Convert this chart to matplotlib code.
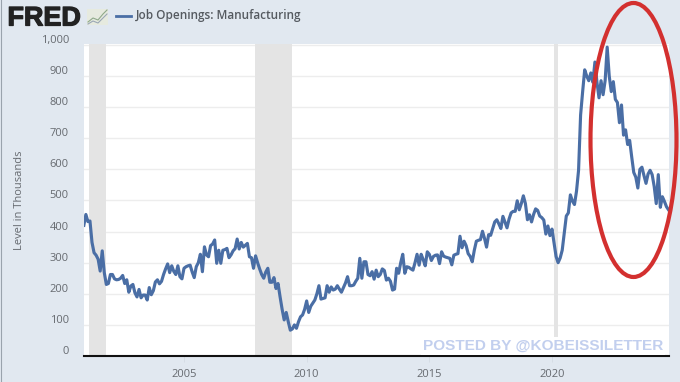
import matplotlib
matplotlib.use("Agg")
import matplotlib.pyplot as plt
import matplotlib.patheffects as pe
from matplotlib.patches import Ellipse, Rectangle
from matplotlib.lines import Line2D
from matplotlib.transforms import ScaledTranslation

W, H = 680, 382
BG = "#e1e8f0"
LINE = "#4a6ea5"
TXT = "#666a70"

v2000 = [420]
v2001 = [455, 432, 434, 365, 332, 324, 311, 273, 338, 268, 230, 233]
v2002 = [262, 262, 248, 245, 246, 250, 259, 233, 245, 205, 225, 230]
v2003 = [203, 190, 214, 187, 196, 196, 180, 220, 197, 210, 238, 245]
v2004 = [232, 240, 262, 280, 296, 268, 290, 272, 262, 290, 255, 248]
v2005 = [282, 287, 290, 292, 270, 252, 287, 300, 327, 271, 351, 325]
v2006 = [319, 355, 360, 373, 298, 340, 298, 340, 342, 346, 316, 325]
v2007 = [338, 345, 376, 344, 365, 350, 356, 362, 319, 316, 282, 322]
v2008 = [300, 280, 262, 250, 270, 282, 237, 237, 252, 217, 233, 190]
v2009 = [150, 116, 140, 110, 83, 87, 100, 89, 110, 126, 132, 150]
v2010 = [177, 140, 160, 170, 180, 200, 226, 183, 185, 187, 226, 205]
v2011 = [222, 212, 215, 226, 215, 205, 220, 235, 255, 226, 226, 228]
v2012 = [240, 250, 314, 250, 303, 303, 262, 258, 271, 247, 276, 255]
v2013 = [262, 280, 275, 244, 250, 240, 212, 215, 282, 266, 300, 327]
v2014 = [266, 287, 285, 280, 276, 300, 327, 292, 327, 310, 290, 335]
v2015 = [327, 307, 320, 324, 325, 297, 335, 321, 318, 316, 314, 293]
v2016 = [324, 327, 329, 385, 348, 369, 355, 329, 320, 303, 340, 369]
v2017 = [372, 374, 401, 378, 350, 390, 388, 410, 431, 438, 425, 410]
v2018 = [449, 430, 412, 440, 460, 465, 465, 499, 470, 490, 515, 490]
v2019 = [438, 454, 431, 455, 473, 468, 450, 445, 437, 392, 418, 387]
v2020 = [408, 365, 320, 300, 315, 340, 395, 450, 460, 518, 498, 487]
v2021 = [530, 597, 775, 850, 920, 900, 885, 910, 880, 945, 880, 830]
v2022 = [885, 840, 885, 993, 900, 850, 882, 825, 815, 750, 807, 710]
v2023 = [727, 680, 693, 640, 590, 575, 540, 600, 607, 580, 555, 585]
v2024 = [597, 583, 545, 490, 583, 478, 512, 497, 480, 470]

by_year = [(2001, v2001), (2002, v2002), (2003, v2003), (2004, v2004), (2005, v2005),
           (2006, v2006), (2007, v2007), (2008, v2008), (2009, v2009), (2010, v2010),
           (2011, v2011), (2012, v2012), (2013, v2013), (2014, v2014), (2015, v2015),
           (2016, v2016), (2017, v2017), (2018, v2018), (2019, v2019), (2020, v2020),
           (2021, v2021), (2022, v2022), (2023, v2023), (2024, v2024)]

dates = [2000 + 11 / 12]
values = list(v2000)
for yr, vals in by_year:
    for m, val in enumerate(vals):
        dates.append(yr + m / 12)
        values.append(val)

recessions = [(2001.13, 2001.81), (2007.90, 2009.39), (2020.08, 2020.25)]
y_ticks = [0, 100, 200, 300, 400, 500, 600, 700, 800, 900, 1000]
y_labels = ["0", "100", "200", "300", "400", "500", "600", "700", "800", "900", "1,000"]
x_ticks = [2005, 2010, 2015, 2020]
x_labels = ["2005", "2010", "2015", "2020"]
series_name = "Job Openings: Manufacturing"
y_title = "Level in Thousands"
watermark = "POSTED BY @KOBEISSILETTER"

fig = plt.figure(figsize=(W / 100, H / 100), dpi=100, facecolor=BG)
L, R, T, B = 83.5, 669, 44, 356
ax = fig.add_axes([L / W, 1 - B / H, (R - L) / W, (B - T) / H])
ax.set_facecolor("white")
ax.set_xlim(2000.903, 2024.77)
ax.set_ylim(0, 1003)

for a, b in recessions:
    ax.axvspan(a, b, color="#e4e4e4", lw=0, zorder=1)
ax.yaxis.grid(True, color="#ededed", lw=1.0, zorder=0.5)
ax.set_axisbelow(True)
ax.plot(dates, values, color=LINE, lw=2.25, solid_joinstyle="round", zorder=3)

for s in ("top", "left", "right"):
    ax.spines[s].set_visible(False)
ax.spines["bottom"].set_color("#111111")
ax.spines["bottom"].set_linewidth(1.5)

ax.set_yticks(y_ticks, y_labels)
ax.set_xticks(x_ticks, x_labels)
ax.tick_params(axis="y", length=0, pad=10.5, labelsize=8, labelcolor=TXT)
ax.tick_params(axis="x", length=4, width=0.6, color="#d5dbe3", pad=5.5, labelsize=8, labelcolor=TXT)
off = ScaledTranslation(0, 6 / 100, fig.dpi_scale_trans)
for lab in ax.get_yticklabels():
    lab.set_fontfamily("Open Sans")
    lab.set_transform(lab.get_transform() + off)
for lab in ax.get_xticklabels():
    lab.set_fontfamily("Open Sans")

fig.text(20 / W, 1 - 200 / H, y_title, rotation=90, ha="center", va="center",
         fontsize=8, color=TXT, family="Open Sans")

# header
logo = fig.text(7.5 / W, 1 - 25.5 / H, "FRED", ha="left", va="baseline", fontsize=19.4,
                fontweight="bold", family="Liberation Sans", color="#222222")
logo.set_path_effects([pe.withStroke(linewidth=0.9, foreground="#222222")])
fig.add_artist(Rectangle((87 / W, 1 - 25 / H), 21 / W, 16 / H, transform=fig.transFigure,
                         facecolor="#e6eadf", edgecolor="none"))
fig.add_artist(Line2D([88 / W, 93 / W, 98 / W, 103 / W, 107 / W],
                      [1 - 22 / H, 1 - 18 / H, 1 - 20 / H, 1 - 14 / H, 1 - 10 / H],
                      color="#8fa98a", lw=0.8, transform=fig.transFigure))
fig.add_artist(Line2D([88 / W, 93 / W, 98 / W, 103 / W, 107 / W],
                      [1 - 24 / H, 1 - 21 / H, 1 - 23 / H, 1 - 18 / H, 1 - 14 / H],
                      color="#9aa7b5", lw=0.8, transform=fig.transFigure))
fig.add_artist(Line2D([116 / W, 131 / W], [1 - 16 / H, 1 - 16 / H], color=LINE, lw=2.0,
                      transform=fig.transFigure))
fig.text(136 / W, 1 - 16 / H, series_name, ha="left", va="center", fontsize=8.5,
         fontweight="semibold", family="Open Sans", color="#555a60")

# watermark
fig.text(423 / W, 1 - 346 / H, watermark, ha="left", va="center", fontsize=11.1,
         fontweight="bold", family="Liberation Sans", color="#c2cfee",
         bbox=dict(facecolor="white", edgecolor="none", pad=1.5), zorder=5)

# red hand-drawn ellipse
fig.add_artist(Ellipse((633.5 / W, 1 - 140 / H), 86 / W, 274 / H, transform=fig.transFigure,
                       facecolor="none", edgecolor="#d3302f", lw=3.0, zorder=6))
# left border
fig.add_artist(Line2D([0.5 / W, 0.5 / W], [0, 1], color="#9aa3ad", lw=0.8, transform=fig.transFigure))

fig.savefig("out.png", dpi=100, facecolor=BG)
